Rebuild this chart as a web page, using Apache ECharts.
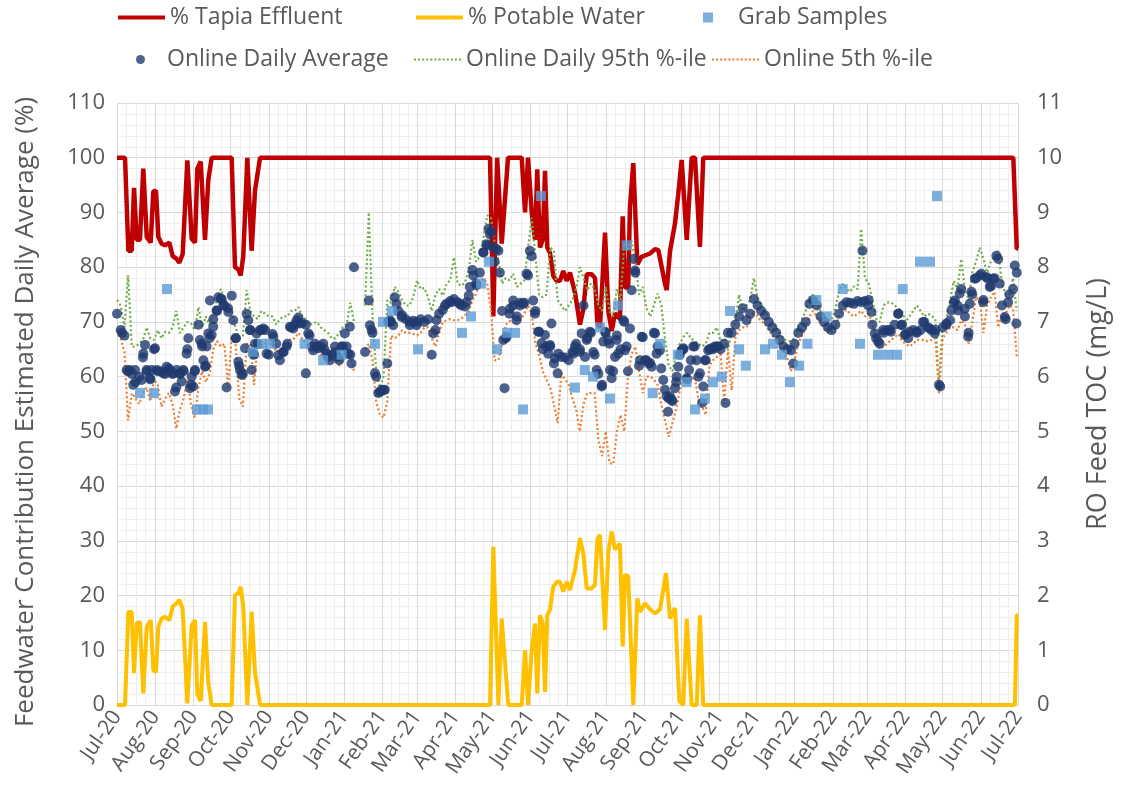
<!DOCTYPE html>
<html>
<head>
<meta charset="utf-8">
<script src="https://cdn.jsdelivr.net/npm/echarts@6/dist/echarts.min.js"></script>
<style>
  html, body { margin: 0; padding: 0; background: #fff; }
  #chart { width: 1126px; height: 801px; }
</style>
</head>
<body>
<div id="chart"></div>
<script>
// time is kept as "days since 1 Jul 2020"
const START = Date.UTC(2020, 6, 1);
const END = Date.UTC(2022, 6, 1);
const DAY = 86400000;
const MONTHS = ["Jan", "Feb", "Mar", "Apr", "May", "Jun", "Jul", "Aug", "Sep", "Oct", "Nov", "Dec"];

// % Tapia effluent, [day, %]
const tapia = [
  [0, 100], [6.5, 100], [9.2, 83], [11.9, 83], [13.8, 94.5], [16, 85], [18.6, 85], [21.3, 98],
  [24.1, 85.5], [27.3, 84.5], [29.4, 93.8], [31.6, 94], [33.5, 85.5], [36.2, 84.3], [38.9, 84],
  [42.4, 84.5], [45.1, 82], [48.4, 81.5], [50.5, 80.8], [53.2, 82.4], [57, 99.5], [60.5, 85.2],
  [63.2, 84.5], [65.1, 98], [67.8, 99.3], [71.3, 85], [74, 96], [76.7, 100], [92.9, 100],
  [95.6, 80], [98.3, 79.6], [100.2, 78.5], [102.3, 82], [105.6, 100], [109.1, 83], [111.8, 94],
  [115.9, 100], [302.2, 100], [304.9, 71], [308, 100], [311.7, 84.3], [316.8, 100], [327.9, 100],
  [330.6, 90], [333, 100], [336, 90], [338.7, 85], [340.5, 97.9], [342.7, 83.6], [344.9, 85],
  [346.8, 97.6], [348.6, 83.6], [350.8, 82.6], [353.5, 78.4], [356.3, 77.5], [358.9, 77.5],
  [361.6, 79.3], [364.3, 77.5], [367, 79], [371.1, 75.3], [375.1, 69.5], [377.8, 72.3],
  [380.6, 78.7], [384.6, 78.7], [387.3, 78], [389.2, 69.7], [391.3, 69], [395.4, 86.3],
  [398.1, 72], [400.8, 68.3], [403.5, 71.6], [407.5, 70.5], [409.7, 89.3], [411.6, 76.2],
  [414.2, 76.5], [415.6, 91], [418.3, 99], [421.6, 80.5], [425, 81.9], [431.8, 82.5],
  [435.9, 83.3], [438.6, 83.1], [444, 77], [445.4, 75.8], [448.1, 83], [452.1, 88], [454.8, 93.5],
  [457.5, 99.6], [461.6, 85], [465.6, 100], [468.3, 100], [472.3, 83.7], [475, 100],
  [726.2, 100], [729, 83.4], [730, 83.4]
];

// % potable water, [day, %]
const potable = [
  [0, 0], [6.5, 0], [9.2, 17], [11.9, 17], [13.8, 5.8], [16, 14.9], [18.6, 15.2], [21.3, 2.1],
  [24.1, 14.3], [27.3, 15.5], [29.4, 6.4], [31.6, 6], [33.5, 14.3], [36.2, 15.8], [38.9, 16.1],
  [42.4, 15.5], [45.1, 18], [48.4, 18.6], [50.5, 19.2], [53.2, 17.6], [57, 0.3], [60.5, 14.6],
  [63.2, 15.5], [65.1, 2], [67.8, 0.7], [71.3, 15.2], [74, 4], [76.7, 0], [92.9, 0], [95.6, 20.1],
  [98.3, 20.4], [100.2, 21.6], [102.3, 18], [105.6, 0], [109.1, 17], [111.8, 6], [115.9, 0],
  [302.2, 0], [304.9, 28.9], [309, 0], [311.7, 15.8], [317, 0], [327.9, 0], [330.6, 10], [333, 0],
  [336, 10], [338.7, 14.9], [340.5, 2.1], [342.7, 16.4], [344.9, 15], [346.8, 2.4], [348.6, 16.4],
  [350.8, 17.4], [353.5, 21.6], [356.3, 22.5], [358.9, 22.5], [361.6, 20.7], [364.3, 22.5],
  [367, 21], [371.1, 24.7], [375.1, 30.5], [377.8, 27.7], [380.6, 21.3], [384.6, 21.3],
  [387.3, 22], [389.2, 30.3], [391.3, 31.1], [395.4, 13.7], [398.1, 28], [400.8, 31.7],
  [403.5, 28.4], [407.5, 29.5], [409.7, 10.7], [411.6, 23.8], [414.2, 23.5], [418.3, 0],
  [421.6, 19.5], [423.7, 17], [427.8, 18.6], [431.8, 17.5], [435.9, 16.7], [440, 17.5],
  [444.8, 24.1], [448.1, 15.8], [452.1, 17.7], [455.6, 0.7], [458.8, 0], [461.6, 15.8],
  [465.6, 0], [469.7, 0], [472.3, 16.4], [475, 0], [727.5, 0], [729, 16.4], [730, 16.4]
];

// grab samples, [day, mg/L]
const grab = [
  [18.6, 5.7], [30, 5.7], [40.5, 7.6], [64.8, 5.4], [69.7, 5.4], [73.7, 5.4], [110, 6.45],
  [117.5, 6.6], [124, 6.6], [152, 6.6], [167, 6.3], [182, 6.4], [209, 6.6], [215.5, 7.0],
  [222.8, 7.2], [243.9, 6.5], [279.5, 6.8], [286.8, 7.1], [295, 7.7], [301.4, 8.1], [307.9, 6.5],
  [316, 6.8], [322.5, 6.8], [329, 5.4], [343.5, 9.3], [371, 5.8], [379, 6.12], [385.7, 6.0],
  [391.3, 6.9], [399.4, 5.6], [406, 7.3], [413, 8.4], [434, 5.7], [440, 6.6], [454.5, 6.4],
  [461.5, 5.9], [468.3, 5.4], [476.4, 5.6], [482.9, 5.9], [490, 6.0], [496.7, 7.2], [504, 6.5],
  [509.5, 6.2], [525, 6.5], [531.5, 6.6], [538.8, 6.4], [545.2, 5.9], [552.6, 6.2], [559.4, 6.6],
  [566.6, 7.4], [575, 7.1], [588, 7.6], [602, 6.6], [616.6, 6.4], [624.7, 6.4], [632, 6.4],
  [636.6, 7.6], [650.6, 8.1], [658.7, 8.1], [664.4, 9.3]
];

// online values, one every 3 days from day 0 (mg/L)
const STEP = 3;
const avgToc = [
  7.15, 6.85, 6.75, 6.1, 6.05, 5.9, 6.0, 6.35, 6.1, 5.95, 6.5, 6.1, 6.1, 6.05, 6.15, 6.05, 5.8, 6.05,
  6.1, 6.5, 5.85, 6.1, 6.95, 6.55, 6.2, 6.7, 7.05, 7.2, 7.42, 7.3, 7.25, 7.48, 6.7, 6.2, 6.05, 7.15,
  6.85, 6.4, 6.6, 6.85, 6.85, 6.4,
  6.78, 6.6, 6.3, 6.45, 6.6, 6.9, 6.95, 7.08, 6.98, 6.95, 6.75, 6.48, 6.55, 6.55, 6.5, 6.36, 6.4,
  6.45, 6.3, 6.55, 6.55, 6.4, null, null, null, 6.45, 7.39, 6.8, 6.0, 5.72, 5.75, 6.24, 7.0, 7.45,
  7.2, 7.12, 7.05, 7.0, 7.02, 7.0,
  7.05, 7.0, 7.05, 6.4, 6.85, 7.15, 7.22, 7.33, 7.38, 7.42, 7.36, 7.3, 7.28, 7.48, 7.95, 7.7, 7.9,
  8.27, 8.4, 8.65, 8.1, 8.3, 7.2, 6.7, 7.15, 7.3, 7.1, 7.35, 7.35, 7.85, 8.2, 7.2, 6.82, 6.5, 6.55,
  6.55, 6.24, 6.06,
  6.36, 6.35, 6.3, 6.45, 6.6, 6.5, 7.3, 6.7, 6.8, 6.4, 6.05, 5.85, 6.8, 6.6, 6.1, 6.75, 6.5, 7.0,
  6.1, 7.58, 7.9, 6.2, 6.72, 6.3, 6.25, 6.8, 6.55, 6.15, 5.76, 5.6, 5.55, 5.9, 6.4, 6.5, 5.95, 6.3,
  6.55, 6.0, 5.52, 6.3, 6.5, 6.5, 6.55,
  6.5, 6.6, 6.8, 6.8, 6.95, 7.1, 7.25, 7.03, 7.15, 7.42, 7.3, 7.2, 7.12, 7.0, 6.9, 6.8, 6.67, 6.55,
  6.5, 6.48, 6.6, 6.8, 6.9, 7.0, 7.33, 7.4, 7.3, 7.1, 7.0, 6.9, 6.85, 6.95, 7.15, 7.3, 7.36, 7.35,
  7.33, 7.38, 7.36, 7.38, 7.4,
  6.95, 6.7, 6.6, 6.8, 6.85, 6.82, 6.95, 7.15, 6.95, 6.78, 6.82, 6.85, 6.8, 6.85, 7.0, 6.9, 6.85,
  6.85, 5.85, 6.9, 6.95, 7.03, 7.35, 7.3, 7.6, 7.1, 6.8, 7.5, 7.8, 7.85, 7.4, 7.8, 7.65, 7.8, 8.15,
  7.3, 7.05, 7.5, 7.6, 7.9
];

// further daily averages read between the 3-day samples, [day, mg/L]
const avgExtra = [
  [4, 6.8], [7.8, 6.12], [10.5, 6.12], [13.2, 5.85], [14.6, 6.12], [20, 5.94], [21.3, 6.42],
  [22.7, 6.58], [24, 6.12], [26.7, 5.97], [28, 6.12], [30.8, 6.52], [32.1, 6.12], [37.5, 6.06],
  [40.2, 6.18], [42.9, 6.12], [45.6, 6.06], [47, 5.73], [48.3, 6.12], [51, 6.06], [52.4, 5.91],
  [53.7, 6.12], [56.4, 6.42], [57.8, 6.7], [59.1, 5.79], [60.5, 6.0], [61.8, 5.82], [63.2, 6.12],
  [67.2, 6.67], [68.6, 6.6], [70, 6.3], [71.3, 6.18], [72.6, 6.55], [74, 6.79], [75.3, 7.39],
  [76.7, 6.76], [78, 6.91], [80.7, 7.21], [82.1, 7.45], [84.8, 7.42], [86.1, 7.3], [88.8, 5.8],
  [90.2, 7.18], [94.2, 7.03], [96.4, 6.7], [98.3, 6.27], [99.6, 6.12], [101, 6.03], [103.7, 6.52],
  [106.4, 7.03], [107.7, 6.85], [109.1, 6.12], [110.4, 6.42], [111.8, 6.6], [113.1, 6.79],
  [115.8, 6.85], [118.5, 6.88], [121.2, 6.42], [126.6, 6.73], [130.7, 6.39], [134.7, 6.45],
  [137.4, 6.55], [140.1, 6.91], [142.8, 6.88], [145.5, 7.03], [148.2, 6.97], [153, 6.06],
  [155, 6.79], [157.7, 6.55], [160.4, 6.6], [163, 6.52], [167.1, 6.6], [169.8, 6.42], [172.5, 6.3],
  [176.6, 6.55], [179.3, 6.36], [181.9, 6.55], [184.6, 6.79], [187.4, 6.42], [188.7, 6.91],
  [190, 6.24], [192, 8.0], [204.9, 6.94], [206.3, 6.85], [209, 6.06], [211.7, 5.7], [214.4, 5.76],
  [217, 5.76], [219.8, 7.0], [221.1, 7.03], [223.8, 6.94], [226.5, 7.33], [230.6, 7.09],
  [237.3, 6.94], [242.7, 6.94], [256.2, 6.79], [258.9, 7.03], [265.7, 7.3], [271, 7.36],
  [277.8, 7.33], [283.2, 7.36], [285.9, 7.64], [288.6, 7.85], [291.3, 7.67], [296.7, 8.27],
  [299.4, 8.42], [301, 8.7], [302.1, 8.6], [304.8, 8.36], [307.5, 8.33], [310.2, 7.9],
  [312.9, 6.67], [314, 5.79], [315.6, 6.73], [318.3, 7.24], [321, 7.39], [323.7, 7.03],
  [326.4, 7.3], [329.1, 7.33], [331.8, 7.88], [334.5, 8.3], [337.2, 7.39], [338.6, 7.15],
  [341.3, 6.82], [344, 6.61], [346.7, 6.76], [349.4, 6.42], [350.7, 6.58], [352, 6.97],
  [354.8, 6.33], [357.5, 6.42], [369.7, 6.42], [371, 6.55], [375.1, 6.45], [376.5, 6.79],
  [379.2, 6.36], [380.5, 6.67], [383.2, 6.82], [385.9, 6.45], [388.6, 6.12], [392.7, 5.82],
  [394, 6.64], [395.4, 6.82], [398, 6.67], [399.4, 6.12], [400.8, 5.97], [403.5, 6.36],
  [404.8, 6.67], [406.2, 6.42], [410.2, 7.03], [411.6, 6.48], [412.9, 6.55], [415.6, 6.88],
  [418.3, 8.15], [419.7, 7.94], [423.7, 6.3], [425.1, 6.73], [427.8, 6.3], [430.5, 6.24],
  [433.2, 6.18], [435.9, 6.79], [437.2, 6.42], [439.9, 6.48], [442.6, 5.94], [445.3, 5.64],
  [446.5, 5.36], [448, 5.64], [449.4, 5.58], [452.1, 5.79], [453.4, 6.0], [454.8, 6.18],
  [457.5, 6.48], [458.8, 6.52], [461.5, 5.97], [463.5, 6.12], [466.9, 6.55], [469.6, 6.3],
  [472.3, 6.06], [475, 5.82], [476.4, 6.3], [479, 6.48], [481.7, 6.52], [484.4, 6.55],
  [487.2, 6.55], [493, 5.52], [548, 6.24], [604, 8.3], [608.6, 7.3], [611.3, 7.18], [614, 6.79],
  [616.7, 6.64], [620.7, 6.85], [626.1, 6.85], [632.9, 7.15], [635.6, 6.94], [638.3, 6.76],
  [641, 6.7], [647.7, 6.82], [653.1, 7.0], [658.5, 6.88], [662.6, 6.79], [667, 5.82],
  [672, 6.97], [676, 7.21], [678.8, 7.39], [681.5, 7.21], [682.8, 7.52], [686.9, 7.24],
  [689.6, 6.73], [690.9, 7.33], [692.3, 7.55], [695, 7.79], [700.4, 7.88], [701.7, 7.36],
  [704.4, 7.82], [707.1, 7.64], [709.8, 7.79], [712.5, 8.21], [715.2, 7.7], [719.3, 7.09],
  [722, 7.36], [727.4, 8.03], [728.7, 6.97]
];

const p95Toc = [
  7.4, 7.3, 6.9, 7.85, 6.55, 6.55, 6.6, 6.67, 6.9, 6.7, 6.67, 6.85, 6.7, 6.82, 6.8, 6.9, 7.2, 6.8,
  6.9, 7.0, 6.97, 6.85, 7.27, 6.9, 7.1, 6.95, 7.2, 7.4, 7.6, 7.45, 7.3, 7.2, 6.9, 6.7, 6.75, 7.58,
  7.2, 7.1, 7.05, 7.2, 7.15, 7.1,
  7.1, 6.95, 7.05, 7.1, 7.1, 7.2, 7.2, 7.27, 7.1, 7.05, 6.95, 6.97, 7.0, 6.9, 6.85, 6.8, 6.7, 6.7,
  6.8, 6.9, 6.95, 7.35, 7.0, null, null, 7.3, 9.0, 7.1, 6.1, 5.8, 6.0, 7.4, 7.35, 7.64, 7.55, 7.4,
  7.3, 7.3, 7.45, 7.76,
  7.6, 7.62, 7.45, 7.2, 7.5, 7.6, 7.48, 7.7, 7.76, 8.18, 7.7, 7.66, 7.72, 7.95, 8.5, 8.1, 8.2, 8.55,
  8.95, 8.9, 8.45, 8.12, 7.7, 7.8, 7.76, 7.88, 7.64, 7.7, 7.76, 8.35, 8.9, 8.2, 7.5, 7.45, 7.5,
  8.36, 8.3, 7.4,
  7.3, 7.2, 7.3, 7.4, 7.6, 8.0, 7.8, 7.58, 7.7, 7.6, 7.3, 7.2, 7.64, 7.2, 7.1, 7.6, 7.4, 8.45, 8.3,
  8.48, 8.1, 7.5, 7.64, 7.25, 7.1, 7.3, 7.52, 7.3, 6.7, 6.2, 6.1, 6.4, 6.6, 6.73, 6.8, 6.7, 6.65,
  6.6, 6.55, 6.6, 6.8, 6.8, 6.9,
  6.65, 6.7, 6.5, 6.8, 7.0, 7.5, 7.2, 7.3, 7.4, 7.8, 7.45, 7.3, 7.2, 7.1, 7.0, 6.9, 6.8, 6.7, 6.65,
  6.65, 6.7, 6.9, 7.05, 7.2, 7.45, 7.5, 7.33, 7.2, 7.1, 7.03, 7.03, 7.25, 7.55, 7.7, 7.6, 7.55,
  7.65, 7.6, 8.7, 7.8, 7.7,
  7.4, 7.05, 7.0, 7.3, 7.35, 7.36, 7.3, 7.25, 7.2, 7.0, 7.1, 7.2, 7.3, 7.2, 7.1, 7.15, 7.12, 7.05,
  5.9, 6.97, 7.05, 7.4, 7.75, 7.6, 8.15, 7.6, 7.4, 7.9, 8.1, 8.36, 8.15, 7.9, 8.1, 8.2, 8.3, 7.7,
  7.5, 7.5, 7.8, 7.2
];

const p5Toc = [
  6.85, 6.7, 6.45, 5.2, 5.7, 5.6, 5.5, 5.7, 5.8, 5.55, 5.95, 5.85, 5.45, 5.6, 5.7, 5.5, 5.05, 5.4,
  5.6, 5.95, 5.5, 5.25, 5.8, 6.1, 5.9, 6.05, 6.5, 6.65, 6.55, 6.6, 5.8, 6.75, 6.6, 5.6, 5.45, 6.6,
  6.6, 5.85, 6.6, 6.5, 6.6, 6.6,
  6.6, 6.45, 6.5, 6.5, 6.6, 6.7, 6.7, 6.8, 6.7, 6.6, 6.55, 6.45, 6.45, 6.4, 6.35, 6.3, 6.3, 6.3,
  6.2, 6.3, 6.45, 6.4, 6.1, null, null, 6.5, 6.6, 6.3, 5.55, 5.3, 5.25, 5.55, 6.75, 6.7, 6.75,
  6.85, 6.8, 6.8, 6.78, 6.75,
  6.8, 6.9, 6.9, 6.7, 6.55, 6.8, 7.0, 7.03, 7.05, 7.03, 7.03, 7.06, 7.12, 7.2, 7.4, 7.52, 7.75,
  7.8, 7.7, 7.2, 6.3, 6.3, 6.6, 6.95, 7.0, 7.15, 7.1, 7.03, 7.15, 7.3, 7.15, 6.6, 6.4, 6.1, 5.94,
  5.8, 5.5, 5.15,
  6.06, 5.95, 5.85, 5.6, 5.4, 5.0, 5.5, 5.7, 5.7, 5.7, 4.85, 4.55, 5.0, 4.42, 4.4, 5.0, 5.3, 5.0,
  6.0, 6.42, 6.55, 6.1, 5.7, 6.0, 6.0, 5.95, 5.85, 5.5, 5.2, 4.9, 5.15, 5.4, 5.75, 6.0, 6.06, 5.94,
  6.0, 5.6, 5.45, 5.3, 6.2, 6.3, 6.36,
  6.45, 5.5, 6.5, 5.75, 6.7, 6.85, 6.9, 6.9, 7.0, 7.2, 7.1, 7.0, 6.97, 6.85, 6.75, 6.65, 6.55,
  6.45, 6.35, 6.1, 6.3, 6.6, 6.75, 6.9, 7.1, 7.2, 7.1, 6.95, 6.9, 6.8, 6.8, 6.9, 7.1, 7.2, 7.22,
  7.15, 7.1, 7.15, 7.2, 7.1, 7.15,
  6.97, 6.7, 6.5, 6.55, 6.6, 6.67, 6.72, 6.78, 6.65, 6.6, 6.55, 6.6, 6.67, 6.67, 6.67, 6.64, 6.67,
  6.7, 5.7, 6.7, 6.8, 6.9, 6.9, 6.85, 7.03, 6.95, 6.6, 7.0, 7.45, 7.4, 6.8, 7.3, 7.45, 7.55, 6.9,
  7.15, 7.15, 7.3, 7.25, 6.36
];

const FONT = "'Open Sans', 'Noto Sans', sans-serif";
const GREY = "#595959";

function toTime(day) {
  return START + day * DAY;
}
function pairs(list) {
  return list.map(function (p) { return [toTime(p[0]), p[1]]; });
}
function stepped(values) {
  return values.map(function (v, i) { return [toTime(i * STEP), v]; });
}

const avgPoints = stepped(avgToc)
  .filter(function (p) { return p[1] !== null; })
  .concat(pairs(avgExtra));

// dotted legend swatch: a row of small squares
let dotPath = "path://";
for (let i = 0; i < 12; i++) {
  dotPath += "M" + (i * 4) + ",0h2v2h-2z";
}

const LEGEND_TEXT = { fontSize: 23, color: GREY, fontFamily: FONT };

function legendAt(name, left, top, w, h, icon, textPad) {
  return {
    data: [name],
    left: left,
    top: top,
    padding: 0,
    icon: icon,
    itemWidth: w,
    itemHeight: h,
    symbolKeepAspect: false,
    selectedMode: false,
    textStyle: Object.assign({}, LEGEND_TEXT, { padding: [0, 0, 0, textPad || 0] })
  };
}

const chart = echarts.init(document.getElementById("chart"));

const option = {
  animation: false,
  useUTC: true,
  backgroundColor: "#fff",
  textStyle: { fontFamily: FONT },
  legend: [
    legendAt("% Tapia Effluent", 118, 6, 47, 4, "rect", 0),
    legendAt("% Potable Water", 416, 6, 47, 4, "rect", 0),
    legendAt("Grab Samples", 703, 6, 10, 10, "rect", 20),
    legendAt("Online Daily Average", 136, 48, 9, 9, "circle", 17),
    legendAt("Online Daily 95th %-ile", 414, 48, 47, 2, dotPath, 0),
    legendAt("Online 5th %-ile", 712, 48, 47, 2, dotPath, 0)
  ],
  grid: { left: 117, right: 108, top: 103, bottom: 96, containLabel: false },
  xAxis: {
    type: "time",
    min: START,
    max: END,
    splitNumber: 24,
    minInterval: 28 * DAY,
    maxInterval: 31 * DAY,
    axisLine: { show: true, lineStyle: { color: "#D9D9D9", width: 1 } },
    axisTick: { show: false },
    axisLabel: {
      rotate: 55,
      fontSize: 21,
      color: GREY,
      fontFamily: FONT,
      margin: 8,
      showMinLabel: true,
      showMaxLabel: true,
      hideOverlap: false,
      formatter: function (val) {
        const d = new Date(val);
        return MONTHS[d.getUTCMonth()] + "-" + String(d.getUTCFullYear() % 100);
      }
    },
    splitLine: { show: true, lineStyle: { color: "#D9D9D9", width: 1 } },
    minorTick: { show: false, splitNumber: 4 },
    minorSplitLine: { show: true, lineStyle: { color: "#EEEEEE", width: 1 } }
  },
  yAxis: [
    {
      type: "value",
      min: 0,
      max: 110,
      interval: 10,
      name: "Feedwater Contribution Estimated Daily Average (%)",
      nameLocation: "middle",
      nameGap: 78,
      nameTextStyle: { fontSize: 26, color: GREY, fontFamily: FONT, padding: [0, 16, 0, 0] },
      axisLine: { show: false },
      axisTick: { show: false },
      axisLabel: { fontSize: 22, color: GREY, fontFamily: FONT, margin: 12 },
      splitLine: { show: true, lineStyle: { color: "#D9D9D9", width: 1 } },
      minorTick: { show: false, splitNumber: 5 },
      minorSplitLine: { show: true, lineStyle: { color: "#EEEEEE", width: 1 } }
    },
    {
      type: "value",
      min: 0,
      max: 11,
      interval: 1,
      name: "RO Feed TOC (mg/L)",
      nameLocation: "middle",
      nameGap: 67,
      nameTextStyle: { fontSize: 27, color: GREY, fontFamily: FONT },
      axisLine: { show: false },
      axisTick: { show: false },
      axisLabel: { fontSize: 22, color: GREY, fontFamily: FONT, margin: 19 },
      splitLine: { show: false }
    }
  ],
  series: [
    {
      name: "% Tapia Effluent",
      type: "line",
      data: pairs(tapia),
      symbol: "none",
      z: 2,
      itemStyle: { color: "#C00000" },
      lineStyle: { color: "#C00000", width: 4.5 }
    },
    {
      name: "% Potable Water",
      type: "line",
      data: pairs(potable),
      symbol: "none",
      z: 2,
      itemStyle: { color: "#FFC000" },
      lineStyle: { color: "#FFC000", width: 4 }
    },
    {
      name: "Grab Samples",
      type: "scatter",
      yAxisIndex: 1,
      data: pairs(grab),
      symbol: "rect",
      symbolSize: 10,
      z: 6,
      itemStyle: { color: "#5B9BD5" }
    },
    {
      name: "Online Daily Average",
      type: "scatter",
      yAxisIndex: 1,
      data: avgPoints,
      symbol: "circle",
      symbolSize: 10,
      z: 5,
      itemStyle: { color: "#1F3A6E" }
    },
    {
      name: "Online Daily 95th %-ile",
      type: "line",
      yAxisIndex: 1,
      data: stepped(p95Toc),
      symbol: "none",
      connectNulls: false,
      z: 3,
      itemStyle: { color: "#70AD47" },
      lineStyle: { color: "#70AD47", width: 2.2, type: [2, 2.5] }
    },
    {
      name: "Online 5th %-ile",
      type: "line",
      yAxisIndex: 1,
      data: stepped(p5Toc),
      symbol: "none",
      connectNulls: false,
      z: 3,
      itemStyle: { color: "#ED7D31" },
      lineStyle: { color: "#ED7D31", width: 2.2, type: [2, 2.5] }
    }
  ]
};

chart.setOption(option);
</script>
</body>
</html>
